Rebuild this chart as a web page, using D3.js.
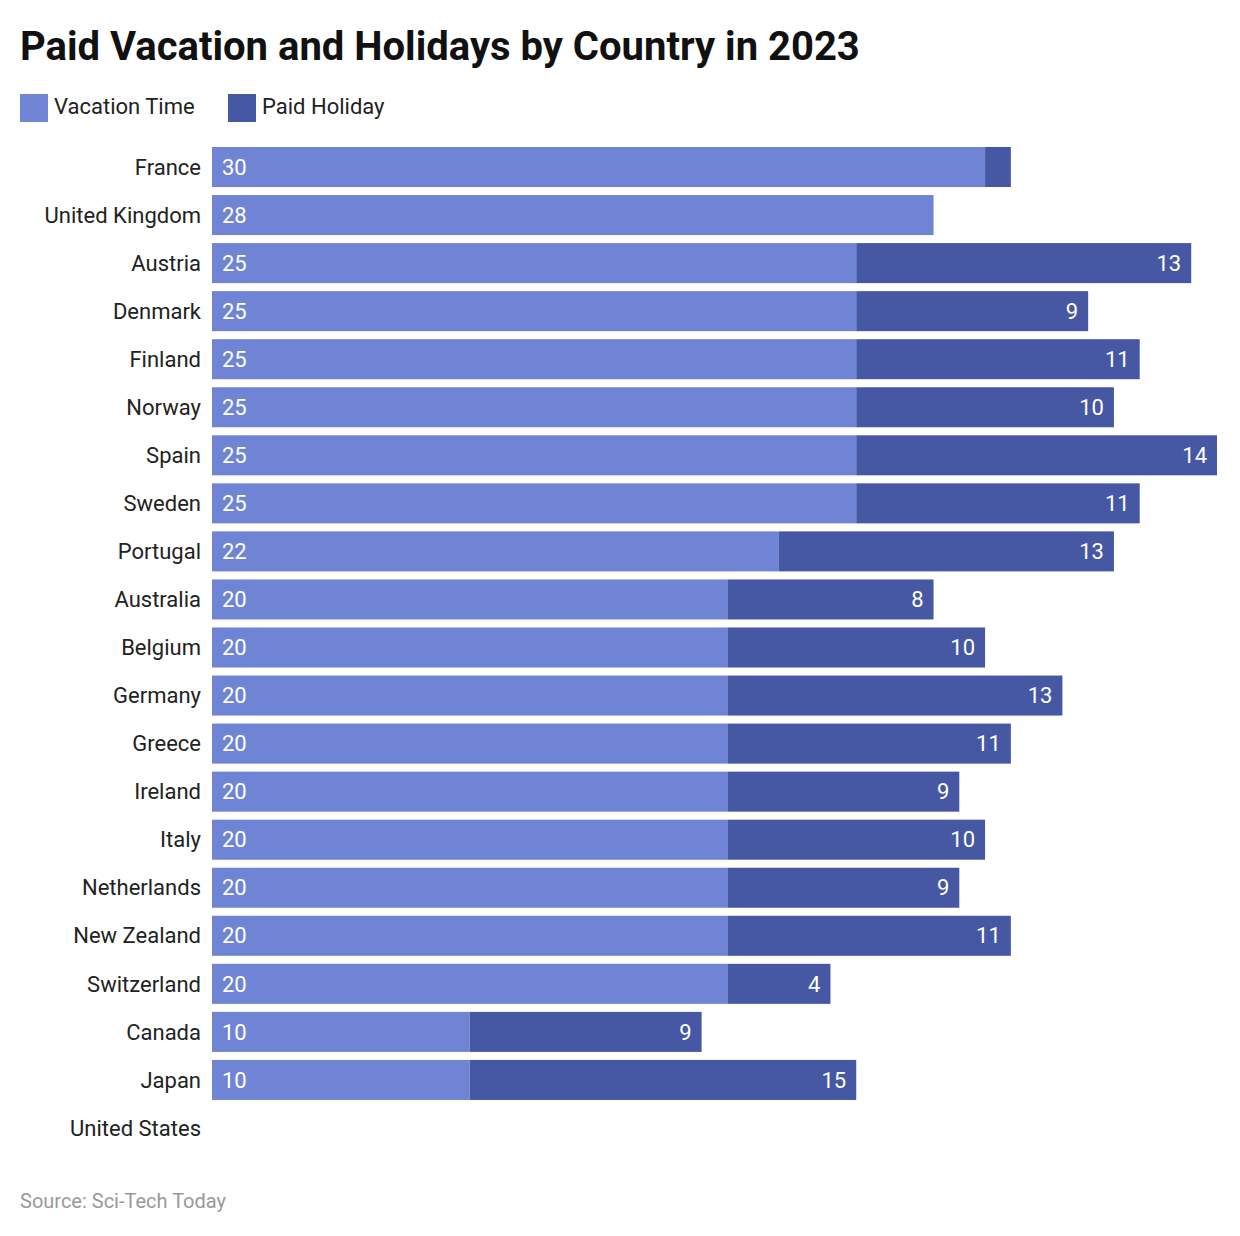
<!DOCTYPE html>
<html><head><meta charset="utf-8">
<script src="https://cdn.jsdelivr.net/npm/d3@7"></script>
<style>body{margin:0;background:#fff;font-family:Roboto,sans-serif}</style>
</head><body><svg id="c" width="1240" height="1236"></svg>
<script>
const countries=["France","United Kingdom","Austria","Denmark","Finland","Norway","Spain","Sweden","Portugal","Australia","Belgium","Germany","Greece","Ireland","Italy","Netherlands","New Zealand","Switzerland","Canada","Japan","United States"];
const vacation=[30,28,25,25,25,25,25,25,22,20,20,20,20,20,20,20,20,20,10,10,0];
const holiday=[1,0,13,9,11,10,14,11,13,8,10,13,11,9,10,9,11,4,9,15,0];
const seriesNames=["Vacation Time","Paid Holiday"];
const colors=["#7084d6","#4657a3"];

const svg=d3.select("#c");
const x=d3.scaleLinear().domain([0,39]).range([212,1217]);
const y=d3.scaleBand().domain(countries).range([143,1152]).paddingInner(0.167).paddingOuter(0.083);

svg.append("text").attr("x",20).attr("y",60).attr("font-size",40).attr("font-weight",700).attr("fill","#111").text("Paid Vacation and Holidays by Country in 2023");
const lg=[[20,54],[228,262]];
seriesNames.forEach((n,i)=>{
  svg.append("rect").attr("x",lg[i][0]).attr("y",94).attr("width",28).attr("height",28).attr("fill",colors[i]);
  svg.append("text").attr("x",lg[i][1]).attr("y",114).attr("font-size",22).attr("fill","#222").text(n);
});
countries.forEach((c,i)=>{
  const yy=y(c),h=y.bandwidth(),cy=yy+h/2;
  svg.append("text").attr("x",201).attr("y",cy).attr("dy","0.35em").attr("text-anchor","end").attr("font-size",22).attr("fill","#222").text(c);
  if(vacation[i]>0){
    svg.append("rect").attr("x",x(0)).attr("y",yy).attr("width",x(vacation[i])-x(0)).attr("height",h).attr("fill",colors[0]);
    svg.append("text").attr("x",x(0)+10).attr("y",cy).attr("dy","0.35em").attr("font-size",22).attr("fill","#fff").text(vacation[i]);
  }
  if(holiday[i]>0){
    const x0=x(vacation[i]),x1=x(vacation[i]+holiday[i]);
    svg.append("rect").attr("x",x0).attr("y",yy).attr("width",x1-x0).attr("height",h).attr("fill",colors[1]);
    if(x1-x0>30) svg.append("text").attr("x",x1-10).attr("y",cy).attr("dy","0.35em").attr("text-anchor","end").attr("font-size",22).attr("fill","#fff").text(holiday[i]);
  }
});
svg.append("text").attr("x",20).attr("y",1208).attr("font-size",20).attr("fill","#999").text("Source: Sci-Tech Today");
</script></body></html>
